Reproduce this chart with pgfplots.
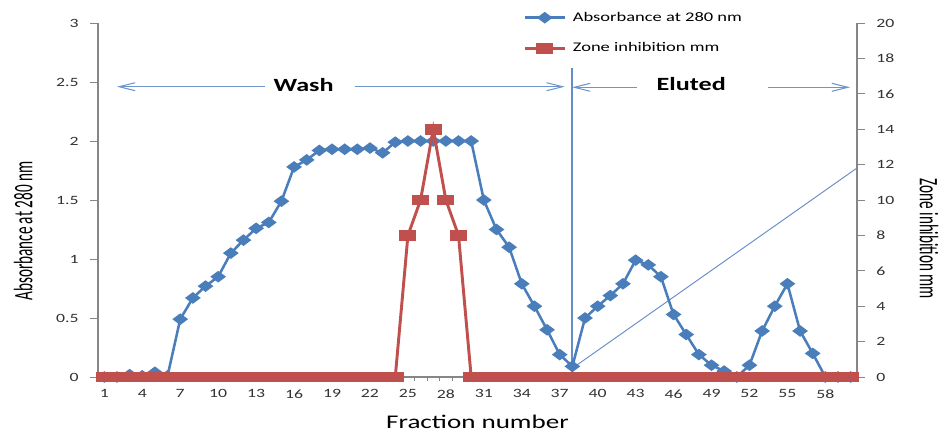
\documentclass[border=0pt]{standalone}
\usepackage{pgfplots}
\pgfplotsset{compat=1.18}
\usepackage{fontspec}
\setmainfont{Carlito}[FakeStretch=1.4]
\newfontfamily\narrowfont{Carlito}[FakeStretch=0.57]
\usetikzlibrary{arrows.meta}
\definecolor{xblue}{RGB}{74,126,187}
\definecolor{xred}{RGB}{192,80,77}
\definecolor{annblue}{RGB}{110,150,205}
\definecolor{vblue}{RGB}{100,140,200}
\definecolor{axgray}{RGB}{134,134,134}
\definecolor{ticktext}{RGB}{50,50,50}
\pgfplotsset{
  bluestyle/.style={color=xblue, line width=1.9pt, mark=diamond*, mark size=3.2pt, mark options={xscale=1.8, solid, fill=xblue}},
  redstyle/.style={color=xred, line width=2.2pt, mark=square*, mark size=3pt, mark options={xscale=1.75, solid, fill=xred}},
  myframe/.style={
    at={(73.5pt,41.25pt)}, anchor=south west,
    scale only axis, width=569.25pt, height=265.5pt,
    xmin=0.5, xmax=60.5, clip=false,
    tick align=outside,
    tick style={draw=axgray, line width=0.6pt},
    axis line style={draw=axgray, line width=0.8pt, -},
    ticklabel style={font=\fontsize{9.5}{11}\selectfont, text=ticktext},
    /pgf/number format/assume math mode=true,
  },
}
\begin{document}
\begin{tikzpicture}
\path[use as bounding box] (0,0) rectangle (705pt,324pt);
\begin{axis}[myframe,
  ymin=0, ymax=3,
  axis x line*=bottom, axis y line*=left,
  xtick={1,4,...,58},
  major x tick style={draw=none},
  minor xtick={0.5,1.5,...,60.5},
  ytick={0,0.5,1,1.5,2,2.5,3},
  yticklabels={0,0.5,1,1.5,2,2.5,3},
  yticklabel style={xshift=-5pt},
  major tick length=6pt, minor tick length=3pt,
  xlabel={Fraction number},
  xlabel style={font=\fontsize{14.5}{16}\selectfont, at={(axis description cs:0.5,-0.128)}, anchor=center},
  ylabel={\narrowfont\fontsize{20}{22}\selectfont Absorbance at 280 nm},
  ylabel style={at={(axis description cs:-0.0985,0.412)}, anchor=center, rotate=0},
]
\draw[annblue, line width=0.8pt, -{Straight Barb[length=12pt,width=6pt]}] (axis cs:13.7,2.46) -- (axis cs:2,2.46);
\draw[annblue, line width=0.8pt, -{Straight Barb[length=12pt,width=6pt]}] (axis cs:20.8,2.46) -- (axis cs:37.4,2.46);
\node[font=\fontsize{14}{16}\selectfont\bfseries, anchor=center] at (axis cs:16.75,2.475) {Wash};
\draw[annblue, line width=0.8pt, -{Straight Barb[length=12pt,width=6pt]}] (axis cs:43.08,2.455) -- (axis cs:37.97,2.455);
\draw[annblue, line width=0.8pt, -{Straight Barb[length=12pt,width=6pt]}] (axis cs:53.5,2.455) -- (axis cs:59.95,2.455);
\node[font=\fontsize{14}{16}\selectfont\bfseries, anchor=center] at (axis cs:47.4,2.48) {Eluted};
\draw[vblue, line width=1.3pt] (axis cs:37.95,0) -- (axis cs:37.95,2.62);
\draw[vblue, line width=0.7pt] (axis cs:38.34,0.10) -- (axis cs:60.5,1.771);
\addplot[bluestyle] coordinates {
(1,0) (2,0) (3,0.02) (4,0.01) (5,0.04) (6,0.01) (7,0.49) (8,0.67) (9,0.77) (10,0.85)
(11,1.05) (12,1.16) (13,1.26) (14,1.31) (15,1.49) (16,1.78) (17,1.84) (18,1.92) (19,1.93) (20,1.93)
(21,1.93) (22,1.94) (23,1.90) (24,1.99) (25,2.0) (26,2.0) (27,2.0) (28,2.0) (29,2.0) (30,2.0)
(31,1.50) (32,1.25) (33,1.10) (34,0.79) (35,0.60) (36,0.40) (37,0.19) (38,0.09) (39,0.50) (40,0.60)
(41,0.69) (42,0.79) (43,0.99) (44,0.95) (45,0.85) (46,0.53) (47,0.36) (48,0.19) (49,0.10) (50,0.05)
(51,0) (52,0.10) (53,0.39) (54,0.60) (55,0.79) (56,0.39) (57,0.20) (58,0) (59,0) (60,0)
};
\end{axis}
\begin{axis}[myframe,
  ymin=0, ymax=20,
  axis x line=none, axis y line*=right,
  ytick={0,2,...,20},
  yticklabel style={xshift=5pt},
  major tick length=6pt,
  ylabel={\narrowfont\fontsize{20}{22}\selectfont Zone inhibition mm},
  ylabel style={at={(axis description cs:1.095,0.39)}, anchor=center, rotate=180},
  legend style={at={(axis description cs:0.56,1.039)}, anchor=north west, draw=none, fill=none,
    font=\fontsize{9.9}{11}\selectfont, row sep=10.5pt, inner sep=0pt,
    /tikz/every odd column/.append style={column sep=3pt}},
  legend cell align=left,
  legend image code/.code={\draw[mark repeat=2,mark phase=2,#1] plot coordinates {(0pt,0pt) (15pt,0pt) (30pt,0pt)};},
]
\addlegendimage{bluestyle}
\addlegendentry{Absorbance at 280 nm}
\addplot[redstyle] coordinates {
(1,0) (2,0) (3,0) (4,0) (5,0) (6,0) (7,0) (8,0) (9,0) (10,0)
(11,0) (12,0) (13,0) (14,0) (15,0) (16,0) (17,0) (18,0) (19,0) (20,0)
(21,0) (22,0) (23,0) (24,0) (25,8) (26,10) (27,14) (28,10) (29,8) (30,0)
(31,0) (32,0) (33,0) (34,0) (35,0) (36,0) (37,0) (38,0) (39,0) (40,0)
(41,0) (42,0) (43,0) (44,0) (45,0) (46,0) (47,0) (48,0) (49,0) (50,0)
(51,0) (52,0) (53,0) (54,0) (55,0) (56,0) (57,0) (58,0) (59,0) (60,0)
};
\addlegendentry{Zone inhibition mm}
\end{axis}
\end{tikzpicture}
\end{document}
